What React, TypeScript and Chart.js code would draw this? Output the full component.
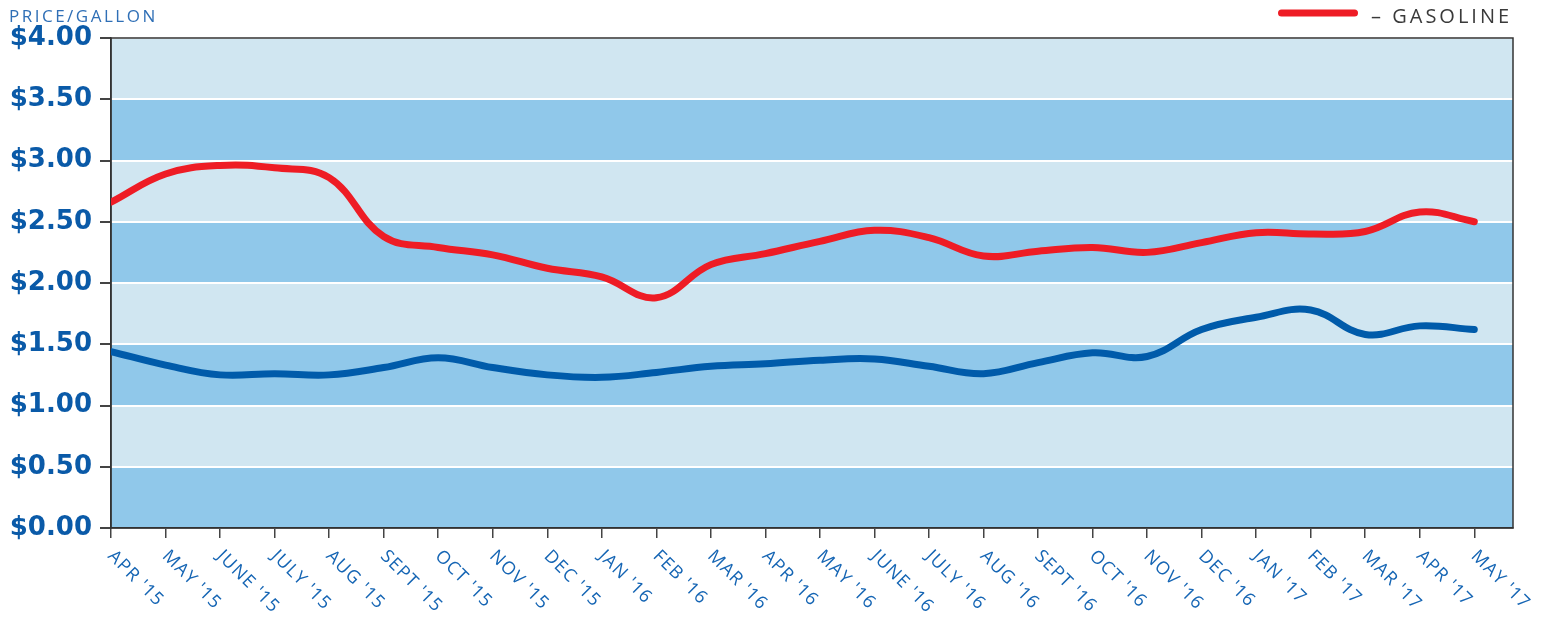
import { useEffect, useRef } from "react";
import { Chart, registerables } from "chart.js";

Chart.register(...registerables);

const MONTHS = [
  "APR '15", "MAY '15", "JUNE '15", "JULY '15", "AUG '15", "SEPT '15", "OCT '15", "NOV '15", "DEC '15",
  "JAN '16", "FEB '16", "MAR '16", "APR '16", "MAY '16", "JUNE '16", "JULY '16", "AUG '16", "SEPT '16",
  "OCT '16", "NOV '16", "DEC '16", "JAN '17", "FEB '17", "MAR '17", "APR '17", "MAY '17",
];

const GASOLINE = [
  2.66, 2.89, 2.96, 2.94, 2.86, 2.38, 2.29, 2.23, 2.12,
  2.05, 1.88, 2.15, 2.24, 2.34, 2.43, 2.37, 2.22, 2.26,
  2.29, 2.25, 2.33, 2.41, 2.40, 2.42, 2.58, 2.50,
];

const ETHANOL = [
  1.44, 1.33, 1.25, 1.26, 1.25, 1.31, 1.39, 1.31, 1.25,
  1.23, 1.27, 1.32, 1.34, 1.37, 1.38, 1.32, 1.26, 1.35,
  1.43, 1.40, 1.62, 1.72, 1.78, 1.58, 1.65, 1.62,
];

const Y_MIN = 0;
const Y_MAX = 4;
const Y_STEP = 0.5;
const X_EXTRA = 0.71; // room after the last month
const TITLE = "PRICE/GALLON";

const RED = "#ee1c25";
const BLUE = "#005baa";
const BAND_DARK = "#90c8ea";
const BAND_LIGHT = "#d0e6f1";

const bandsPlugin = {
  id: "bands",
  beforeDraw(chart: any) {
    const { ctx, chartArea, scales } = chart;
    const y = scales.y;
    const ticks = y.ticks;
    ctx.save();
    for (let i = 0; i < ticks.length - 1; i++) {
      const y0 = y.getPixelForValue(ticks[i].value);
      const y1 = y.getPixelForValue(ticks[i + 1].value);
      ctx.fillStyle = i % 2 === 0 ? BAND_DARK : BAND_LIGHT;
      ctx.fillRect(chartArea.left, y1, chartArea.right - chartArea.left, y0 - y1);
    }
    ctx.restore();
  },
};

const decorPlugin = {
  id: "decor",
  beforeDatasetsDraw(chart: any) {
    const { ctx, chartArea } = chart;
    ctx.save();
    ctx.strokeStyle = "#333";
    ctx.lineWidth = 1.5;
    ctx.strokeRect(chartArea.left, chartArea.top, chartArea.right - chartArea.left, chartArea.bottom - chartArea.top);
    ctx.restore();
  },
  afterDraw(chart: any) {
    const { ctx, scales, chartArea } = chart;
    const xs = scales.x;
    ctx.save();
    // x labels rotated 45deg clockwise
    ctx.fillStyle = "#1565b4";
    ctx.font = "400 18px 'Open Sans'";
    (ctx as any).letterSpacing = "1.2px";
    ctx.textAlign = "left";
    ctx.textBaseline = "top";
    xs.ticks.forEach((t: any) => {
      const label = MONTHS[t.value];
      if (label === undefined) return;
      const px = xs.getPixelForValue(t.value);
      ctx.save();
      ctx.translate(px + 6, chartArea.bottom + 19);
      ctx.rotate(Math.PI / 4);
      ctx.fillText(label, 0, 0);
      ctx.restore();
    });
    // title
    ctx.fillStyle = "#2f6fb6";
    ctx.font = "400 17px 'Open Sans'";
    (ctx as any).letterSpacing = "2.5px";
    ctx.textBaseline = "alphabetic";
    ctx.fillText(TITLE, 1, 14);
    // legend (gasoline only)
    const ds = chart.data.datasets[0];
    ctx.strokeStyle = ds.borderColor;
    ctx.lineWidth = 7;
    ctx.lineCap = "round";
    ctx.beginPath();
    ctx.moveTo(1273.5, 5);
    ctx.lineTo(1346.5, 5);
    ctx.stroke();
    ctx.fillStyle = "#3a3a3a";
    ctx.font = "400 20px 'Open Sans'";
    (ctx as any).letterSpacing = "3px";
    ctx.fillText("\u2013 " + ds.label, 1363, 15);
    ctx.restore();
  },
};

export default function App() {
  const ref = useRef<HTMLCanvasElement>(null);
  useEffect(() => {
    const chart = new Chart(ref.current as HTMLCanvasElement, {
      type: "line",
      data: {
        datasets: [
          {
            label: "GASOLINE",
            data: GASOLINE.map((v, i) => ({ x: i, y: v })),
            borderColor: RED,
            borderWidth: 7,
            tension: 0.4,
            pointRadius: 0,
            borderCapStyle: "round",
            borderJoinStyle: "round",
          },
          {
            label: "ETHANOL",
            data: ETHANOL.map((v, i) => ({ x: i, y: v })),
            borderColor: BLUE,
            borderWidth: 7,
            tension: 0.4,
            pointRadius: 0,
            borderCapStyle: "round",
            borderJoinStyle: "round",
          },
        ],
      },
      options: {
        animation: false,
        responsive: true,
        maintainAspectRatio: false,
        layout: { padding: { top: 30, right: 28, left: 0, bottom: 0 } },
        plugins: {
          legend: { display: false },
          title: { display: false },
          tooltip: { enabled: false },
        },
        scales: {
          x: {
            type: "linear",
            min: 0,
            max: MONTHS.length - 1 + X_EXTRA,
            ticks: { display: false, stepSize: 1, includeBounds: false },
            grid: { drawOnChartArea: false, tickLength: 10, tickColor: "#444", lineWidth: 1.5 },
            border: { color: "#333", width: 1.5 },
            afterFit: (s: any) => {
              s.height = 92;
            },
          },
          y: {
            min: Y_MIN,
            max: Y_MAX,
            ticks: {
              stepSize: Y_STEP,
              callback: (v: any) => "$" + Number(v).toFixed(2),
              font: { family: "'DejaVu Sans'", size: 26, weight: "bold" },
              color: "#0a5aa8",
              padding: 8,
            },
            grid: { color: "#ffffff", lineWidth: 2, tickLength: 11, tickColor: "#444" },
            border: { color: "#333", width: 1.5 },
            afterFit: (s: any) => {
              s.width = 103;
            },
          },
        },
      },
      plugins: [bandsPlugin, decorPlugin],
    } as any);
    return () => chart.destroy();
  }, []);
  return (
    <div style={{ width: 1533, height: 612, position: "relative" }}>
      <canvas ref={ref} />
    </div>
  );
}
